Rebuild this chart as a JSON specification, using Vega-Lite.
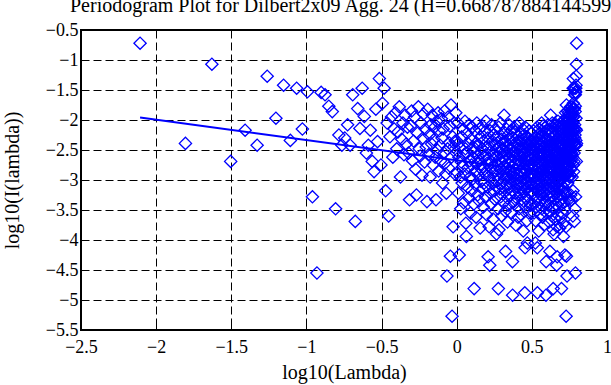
{
"$schema": "https://vega.github.io/schema/vega-lite/v6.json",
"width": 526, "height": 300,
"autosize": {"type": "none"},
"padding": {"left": 81, "top": 30, "right": 4, "bottom": 55},
"background": "white",
"title": {"text": "Periodogram Plot for Dilbert2x09 Agg. 24 (H=0.668787884144599)", "anchor": "start", "frame": "group", "dx": -11, "dy": 12, "offset": 1, "baseline": "alphabetic", "font": "Liberation Serif", "fontSize": 20, "fontWeight": "normal", "color": "black"},
"config": {
 "view": {"stroke": "black", "strokeWidth": 2},
 "axis": {"labelFont": "Liberation Serif", "labelFontSize": 18, "labelColor": "black", "titleFont": "Liberation Serif", "titleFontSize": 20, "titleFontWeight": "normal", "titleColor": "black", "domain": false, "gridColor": "black", "gridDash": [8, 4], "gridWidth": 1, "gridOpacity": 1, "tickColor": "black", "tickSize": -6, "tickWidth": 1, "labelFlush": false, "labelOverlap": false, "labelBound": false}
},
"datasets": {
"fit": [{"x": -2.107, "y": -1.96}, {"x": 0.798, "y": -2.94}],
"pts": [
{"x":-2.107,"y":-0.72},{"x":-1.805,"y":-2.39},{"x":-1.629,"y":-1.07},{"x":-1.504,"y":-2.69},{"x":-1.408,"y":-2.17},{"x":-1.328,"y":-2.42},{"x":-1.261,"y":-1.27},{"x":-1.203,"y":-1.97},{"x":-1.152,"y":-1.42},{"x":-1.107,"y":-2.34},
{"x":-1.065,"y":-1.47},{"x":-1.027,"y":-2.15},{"x":-0.993,"y":-1.53},{"x":-0.960,"y":-3.28},{"x":-0.930,"y":-4.55},{"x":-0.902,"y":-1.54},{"x":-0.876,"y":-1.58},{"x":-0.851,"y":-1.77},{"x":-0.828,"y":-1.86},{"x":-0.806,"y":-3.48},
{"x":-0.784,"y":-2.25},{"x":-0.764,"y":-2.42},{"x":-0.745,"y":-2.30},{"x":-0.726,"y":-2.08},{"x":-0.709,"y":-2.42},{"x":-0.692,"y":-1.58},{"x":-0.675,"y":-3.69},{"x":-0.659,"y":-1.81},{"x":-0.644,"y":-2.14},{"x":-0.629,"y":-1.47},
{"x":-0.615,"y":-1.94},{"x":-0.601,"y":-2.55},{"x":-0.588,"y":-2.42},{"x":-0.575,"y":-2.17},{"x":-0.562,"y":-2.69},{"x":-0.550,"y":-2.86},{"x":-0.538,"y":-1.82},{"x":-0.527,"y":-2.36},{"x":-0.515,"y":-1.31},{"x":-0.504,"y":-2.75},
{"x":-0.494,"y":-1.72},{"x":-0.483,"y":-1.47},{"x":-0.473,"y":-3.18},{"x":-0.463,"y":-2.05},{"x":-0.453,"y":-3.60},{"x":-0.444,"y":-2.28},{"x":-0.434,"y":-1.95},{"x":-0.425,"y":-2.62},{"x":-0.416,"y":-2.15},{"x":-0.408,"y":-1.88},
{"x":-0.399,"y":-2.48},{"x":-0.391,"y":-2.20},{"x":-0.382,"y":-1.78},{"x":-0.374,"y":-2.95},{"x":-0.366,"y":-2.32},{"x":-0.358,"y":-2.05},{"x":-0.351,"y":-2.58},{"x":-0.343,"y":-1.92},{"x":-0.336,"y":-2.40},{"x":-0.328,"y":-2.12},
{"x":-0.321,"y":-2.55},{"x":-0.314,"y":-3.33},{"x":-0.307,"y":-2.10},{"x":-0.300,"y":-1.85},{"x":-0.294,"y":-2.68},{"x":-0.287,"y":-2.35},{"x":-0.280,"y":-1.95},{"x":-0.274,"y":-2.82},{"x":-0.268,"y":-3.25},{"x":-0.261,"y":-2.22},
{"x":-0.255,"y":-1.78},{"x":-0.249,"y":-2.48},{"x":-0.243,"y":-2.60},{"x":-0.237,"y":-2.05},{"x":-0.231,"y":-2.92},{"x":-0.226,"y":-2.30},{"x":-0.220,"y":-1.90},{"x":-0.214,"y":-2.70},{"x":-0.209,"y":-2.15},{"x":-0.203,"y":-2.45},
{"x":-0.198,"y":-3.36},{"x":-0.193,"y":-1.82},{"x":-0.187,"y":-2.58},{"x":-0.182,"y":-2.25},{"x":-0.177,"y":-2.95},{"x":-0.172,"y":-2.08},{"x":-0.167,"y":-2.40},{"x":-0.162,"y":-1.92},{"x":-0.157,"y":-2.75},{"x":-0.152,"y":-2.33},
{"x":-0.147,"y":-2.12},{"x":-0.143,"y":-2.62},{"x":-0.138,"y":-3.33},{"x":-0.133,"y":-2.02},{"x":-0.129,"y":-2.50},{"x":-0.124,"y":-1.88},{"x":-0.120,"y":-2.85},{"x":-0.115,"y":-2.18},{"x":-0.111,"y":-2.42},{"x":-0.107,"y":-2.68},
{"x":-0.102,"y":-1.98},{"x":-0.098,"y":-2.30},{"x":-0.094,"y":-3.05},{"x":-0.090,"y":-2.15},{"x":-0.085,"y":-2.55},{"x":-0.081,"y":-1.85},{"x":-0.077,"y":-2.72},{"x":-0.073,"y":-2.90},{"x":-0.069,"y":-3.22},{"x":-0.065,"y":-4.60},
{"x":-0.061,"y":-2.48},{"x":-0.057,"y":-1.95},{"x":-0.053,"y":-2.80},{"x":-0.050,"y":-2.38},{"x":-0.046,"y":-2.10},{"x":-0.042,"y":-4.27},{"x":-0.038,"y":-1.75},{"x":-0.035,"y":-2.62},{"x":-0.031,"y":-5.27},{"x":-0.027,"y":-2.28},
{"x":-0.024,"y":-3.78},{"x":-0.020,"y":-2.45},{"x":-0.017,"y":-2.05},{"x":-0.013,"y":-2.90},{"x":-0.010,"y":-2.35},{"x":-0.006,"y":-1.88},{"x":-0.003,"y":-2.55},
{"x":0.001,"y":-2.35},{"x":0.004,"y":-2.88},{"x":0.007,"y":-2.05},{"x":0.011,"y":-3.22},{"x":0.014,"y":-2.62},{"x":0.017,"y":-4.25},{"x":0.020,"y":-2.45},{"x":0.024,"y":-2.95},{"x":0.027,"y":-3.48},{"x":0.030,"y":-2.70},
{"x":0.033,"y":-2.28},{"x":0.036,"y":-3.05},{"x":0.039,"y":-2.78},{"x":0.043,"y":-2.15},{"x":0.046,"y":-3.38},{"x":0.049,"y":-2.58},{"x":0.052,"y":-2.90},{"x":0.055,"y":-2.02},{"x":0.058,"y":-2.48},{"x":0.061,"y":-3.72},
{"x":0.064,"y":-3.94},{"x":0.067,"y":-2.55},{"x":0.069,"y":-2.22},{"x":0.072,"y":-3.12},{"x":0.075,"y":-2.80},{"x":0.078,"y":-2.40},{"x":0.081,"y":-3.30},{"x":0.084,"y":-2.08},{"x":0.087,"y":-2.68},{"x":0.089,"y":-2.95},
{"x":0.092,"y":-3.55},{"x":0.095,"y":-2.32},{"x":0.098,"y":-2.75},{"x":0.100,"y":-3.18},{"x":0.103,"y":-2.12},{"x":0.106,"y":-2.62},{"x":0.108,"y":-2.98},{"x":0.111,"y":-2.45},{"x":0.114,"y":-3.40},{"x":0.116,"y":-4.81},
{"x":0.119,"y":-2.52},{"x":0.121,"y":-2.18},{"x":0.124,"y":-3.08},{"x":0.126,"y":-2.85},{"x":0.129,"y":-3.62},{"x":0.131,"y":-2.38},{"x":0.134,"y":-2.05},{"x":0.136,"y":-2.72},{"x":0.139,"y":-3.25},{"x":0.141,"y":-2.60},
{"x":0.144,"y":-2.92},{"x":0.146,"y":-2.42},{"x":0.149,"y":-3.35},{"x":0.151,"y":-2.15},{"x":0.153,"y":-2.68},{"x":0.156,"y":-3.80},{"x":0.158,"y":-2.28},{"x":0.160,"y":-3.02},{"x":0.163,"y":-2.55},{"x":0.165,"y":-2.82},
{"x":0.168,"y":-2.48},{"x":0.170,"y":-3.15},{"x":0.172,"y":-2.10},{"x":0.174,"y":-2.78},{"x":0.177,"y":-3.45},{"x":0.179,"y":-2.35},{"x":0.181,"y":-2.62},{"x":0.183,"y":-3.05},{"x":0.186,"y":-2.20},{"x":0.188,"y":-2.90},
{"x":0.190,"y":-3.28},{"x":0.192,"y":-2.58},{"x":0.194,"y":-2.02},{"x":0.197,"y":-2.85},{"x":0.199,"y":-3.58},{"x":0.201,"y":-2.45},{"x":0.203,"y":-2.72},{"x":0.205,"y":-3.12},{"x":0.207,"y":-2.30},{"x":0.209,"y":-4.28},
{"x":0.212,"y":-2.65},{"x":0.214,"y":-2.95},{"x":0.216,"y":-3.78},{"x":0.218,"y":-2.40},{"x":0.220,"y":-4.42},{"x":0.222,"y":-2.18},{"x":0.224,"y":-3.22},{"x":0.226,"y":-2.80},{"x":0.228,"y":-2.52},{"x":0.230,"y":-3.40},
{"x":0.232,"y":-2.08},{"x":0.234,"y":-2.70},{"x":0.236,"y":-3.05},{"x":0.238,"y":-2.35},{"x":0.240,"y":-2.88},{"x":0.242,"y":-3.65},{"x":0.244,"y":-2.25},{"x":0.246,"y":-2.58},{"x":0.248,"y":-3.18},{"x":0.250,"y":-2.98},
{"x":0.251,"y":-2.42},{"x":0.253,"y":-3.32},{"x":0.255,"y":-2.62},{"x":0.257,"y":-2.15},{"x":0.259,"y":-2.85},{"x":0.261,"y":-3.10},{"x":0.263,"y":-2.50},{"x":0.265,"y":-3.90},{"x":0.266,"y":-2.28},{"x":0.268,"y":-2.75},
{"x":0.270,"y":-3.02},{"x":0.272,"y":-2.38},{"x":0.274,"y":-2.92},{"x":0.275,"y":-3.48},{"x":0.277,"y":-4.81},{"x":0.279,"y":-2.12},{"x":0.281,"y":-3.83},{"x":0.283,"y":-2.65},{"x":0.284,"y":-2.45},{"x":0.286,"y":-3.15},
{"x":0.288,"y":-2.55},{"x":0.290,"y":-2.82},{"x":0.291,"y":-2.05},{"x":0.293,"y":-3.28},{"x":0.295,"y":-2.70},{"x":0.297,"y":-2.32},{"x":0.298,"y":-3.05},{"x":0.300,"y":-3.60},{"x":0.302,"y":-2.48},{"x":0.303,"y":-2.90},
{"x":0.305,"y":-2.22},{"x":0.307,"y":-3.12},{"x":0.308,"y":-2.62},{"x":0.310,"y":-2.40},{"x":0.312,"y":-3.38},{"x":0.313,"y":-2.78},{"x":0.315,"y":-1.92},{"x":0.317,"y":-2.98},{"x":0.318,"y":-3.20},{"x":0.320,"y":-2.52},
{"x":0.322,"y":-2.35},{"x":0.323,"y":-3.52},{"x":0.325,"y":-4.19},{"x":0.326,"y":-2.68},{"x":0.328,"y":-2.88},{"x":0.330,"y":-2.15},{"x":0.331,"y":-3.08},{"x":0.333,"y":-2.58},{"x":0.334,"y":-2.80},{"x":0.336,"y":-3.30},
{"x":0.338,"y":-3.70},{"x":0.339,"y":-2.45},{"x":0.341,"y":-2.25},{"x":0.342,"y":-2.95},{"x":0.344,"y":-3.15},{"x":0.345,"y":-2.62},{"x":0.347,"y":-3.42},{"x":0.348,"y":-2.08},{"x":0.350,"y":-2.75},{"x":0.351,"y":-2.98},
{"x":0.353,"y":-2.50},{"x":0.354,"y":-2.32},{"x":0.356,"y":-3.25},{"x":0.357,"y":-2.85},{"x":0.359,"y":-3.05},{"x":0.360,"y":-2.40},{"x":0.362,"y":-2.68},{"x":0.363,"y":-2.18},{"x":0.365,"y":-3.55},{"x":0.366,"y":-2.90},
{"x":0.368,"y":-2.60},{"x":0.369,"y":-3.18},{"x":0.371,"y":-4.36},{"x":0.372,"y":-4.92},{"x":0.373,"y":-2.78},{"x":0.375,"y":-2.30},{"x":0.376,"y":-2.95},{"x":0.378,"y":-3.35},{"x":0.379,"y":-2.52},{"x":0.381,"y":-2.12},
{"x":0.382,"y":-2.88},{"x":0.383,"y":-3.40},{"x":0.385,"y":-2.45},{"x":0.386,"y":-3.02},{"x":0.388,"y":-2.20},{"x":0.389,"y":-2.72},{"x":0.390,"y":-3.22},{"x":0.392,"y":-2.58},{"x":0.393,"y":-3.75},{"x":0.394,"y":-2.65},
{"x":0.396,"y":-2.38},{"x":0.397,"y":-2.98},{"x":0.399,"y":-2.82},{"x":0.400,"y":-3.30},{"x":0.401,"y":-2.10},{"x":0.403,"y":-2.55},{"x":0.404,"y":-3.12},{"x":0.405,"y":-2.48},{"x":0.407,"y":-2.92},{"x":0.408,"y":-3.62},
{"x":0.409,"y":-2.28},{"x":0.411,"y":-2.75},{"x":0.412,"y":-3.05},{"x":0.413,"y":-2.42},{"x":0.415,"y":-3.48},{"x":0.416,"y":-2.68},{"x":0.417,"y":-2.05},{"x":0.418,"y":-3.20},{"x":0.420,"y":-2.58},{"x":0.421,"y":-2.85},
{"x":0.422,"y":-3.25},{"x":0.424,"y":-2.35},{"x":0.425,"y":-2.72},{"x":0.426,"y":-3.02},{"x":0.427,"y":-2.50},{"x":0.429,"y":-3.58},{"x":0.430,"y":-2.22},{"x":0.431,"y":-2.95},{"x":0.432,"y":-2.62},{"x":0.434,"y":-3.15},
{"x":0.435,"y":-2.45},{"x":0.436,"y":-3.38},{"x":0.438,"y":-2.80},{"x":0.439,"y":-2.15},{"x":0.440,"y":-3.08},{"x":0.441,"y":-2.58},{"x":0.443,"y":-3.85},{"x":0.444,"y":-2.32},{"x":0.445,"y":-2.88},{"x":0.446,"y":-3.18},
{"x":0.447,"y":-2.55},{"x":0.449,"y":-2.25},{"x":0.450,"y":-3.28},{"x":0.451,"y":-2.70},{"x":0.452,"y":-2.98},{"x":0.453,"y":-4.88},{"x":0.455,"y":-4.13},{"x":0.456,"y":-2.48},{"x":0.457,"y":-2.12},{"x":0.458,"y":-3.05},
{"x":0.459,"y":-2.65},{"x":0.461,"y":-3.45},{"x":0.462,"y":-2.38},{"x":0.463,"y":-2.85},{"x":0.464,"y":-3.15},{"x":0.465,"y":-2.52},{"x":0.466,"y":-2.28},{"x":0.467,"y":-3.68},{"x":0.469,"y":-2.78},{"x":0.470,"y":-4.05},
{"x":0.471,"y":-2.42},{"x":0.472,"y":-3.02},{"x":0.473,"y":-2.68},{"x":0.474,"y":-3.35},{"x":0.476,"y":-2.32},{"x":0.477,"y":-2.92},{"x":0.478,"y":-2.60},{"x":0.479,"y":-3.12},{"x":0.480,"y":-3.55},{"x":0.481,"y":-2.40},
{"x":0.482,"y":-2.75},{"x":0.483,"y":-2.18},{"x":0.485,"y":-2.95},{"x":0.486,"y":-3.22},{"x":0.487,"y":-2.50},{"x":0.488,"y":-2.82},{"x":0.489,"y":-3.08},{"x":0.490,"y":-2.35},{"x":0.491,"y":-3.42},{"x":0.492,"y":-2.65},
{"x":0.493,"y":-2.90},{"x":0.494,"y":-2.48},{"x":0.495,"y":-3.18},{"x":0.497,"y":-2.72},
{"x":0.798,"y":-0.72},{"x":0.797,"y":-2.39},{"x":0.797,"y":-1.07},{"x":0.796,"y":-2.69},{"x":0.796,"y":-2.17},{"x":0.795,"y":-2.42},{"x":0.795,"y":-1.27},{"x":0.794,"y":-1.97},{"x":0.794,"y":-1.42},{"x":0.793,"y":-2.34},
{"x":0.792,"y":-1.47},{"x":0.792,"y":-2.15},{"x":0.791,"y":-1.53},{"x":0.791,"y":-3.28},{"x":0.790,"y":-4.55},{"x":0.790,"y":-1.54},{"x":0.789,"y":-1.58},{"x":0.789,"y":-1.77},{"x":0.788,"y":-1.86},{"x":0.787,"y":-3.48},
{"x":0.787,"y":-2.25},{"x":0.786,"y":-2.42},{"x":0.786,"y":-2.30},{"x":0.785,"y":-2.08},{"x":0.785,"y":-2.42},{"x":0.784,"y":-1.58},{"x":0.783,"y":-3.69},{"x":0.783,"y":-1.81},{"x":0.782,"y":-2.14},{"x":0.782,"y":-1.47},
{"x":0.781,"y":-1.94},{"x":0.781,"y":-2.55},{"x":0.780,"y":-2.42},{"x":0.779,"y":-2.17},{"x":0.779,"y":-2.69},{"x":0.778,"y":-2.86},{"x":0.778,"y":-1.82},{"x":0.777,"y":-2.36},{"x":0.776,"y":-1.31},{"x":0.776,"y":-2.75},
{"x":0.776,"y":-1.72},{"x":0.775,"y":-1.47},{"x":0.774,"y":-3.18},{"x":0.774,"y":-2.05},{"x":0.773,"y":-3.60},{"x":0.773,"y":-2.28},{"x":0.772,"y":-1.95},{"x":0.771,"y":-2.62},{"x":0.771,"y":-2.15},{"x":0.770,"y":-1.88},
{"x":0.770,"y":-2.48},{"x":0.769,"y":-2.20},{"x":0.768,"y":-1.78},{"x":0.768,"y":-2.95},{"x":0.767,"y":-2.32},{"x":0.767,"y":-2.05},{"x":0.766,"y":-2.58},{"x":0.765,"y":-1.92},{"x":0.765,"y":-2.40},{"x":0.764,"y":-2.12},
{"x":0.764,"y":-2.55},{"x":0.763,"y":-3.33},{"x":0.763,"y":-2.10},{"x":0.762,"y":-1.85},{"x":0.762,"y":-2.68},{"x":0.761,"y":-2.35},{"x":0.760,"y":-1.95},{"x":0.760,"y":-2.82},{"x":0.759,"y":-3.25},{"x":0.759,"y":-2.22},
{"x":0.758,"y":-1.78},{"x":0.757,"y":-2.48},{"x":0.757,"y":-2.60},{"x":0.756,"y":-2.05},{"x":0.756,"y":-2.92},{"x":0.755,"y":-2.30},{"x":0.754,"y":-1.90},{"x":0.754,"y":-2.70},{"x":0.753,"y":-2.15},{"x":0.753,"y":-2.45},
{"x":0.752,"y":-3.36},{"x":0.751,"y":-1.82},{"x":0.751,"y":-2.58},{"x":0.750,"y":-2.25},{"x":0.750,"y":-2.95},{"x":0.749,"y":-2.08},{"x":0.748,"y":-2.40},{"x":0.748,"y":-1.92},{"x":0.747,"y":-2.75},{"x":0.747,"y":-2.33},
{"x":0.746,"y":-2.12},{"x":0.745,"y":-2.62},{"x":0.745,"y":-3.33},{"x":0.744,"y":-2.02},{"x":0.744,"y":-2.50},{"x":0.743,"y":-1.88},{"x":0.742,"y":-2.85},{"x":0.742,"y":-2.18},{"x":0.741,"y":-2.42},{"x":0.740,"y":-2.68},
{"x":0.740,"y":-1.98},{"x":0.739,"y":-2.30},{"x":0.739,"y":-3.05},{"x":0.738,"y":-2.15},{"x":0.737,"y":-2.55},{"x":0.737,"y":-1.85},{"x":0.736,"y":-2.72},{"x":0.735,"y":-2.90},{"x":0.735,"y":-3.22},{"x":0.734,"y":-4.60},
{"x":0.734,"y":-2.48},{"x":0.733,"y":-1.95},{"x":0.732,"y":-2.80},{"x":0.732,"y":-2.38},{"x":0.731,"y":-2.10},{"x":0.730,"y":-4.27},{"x":0.730,"y":-1.75},{"x":0.729,"y":-2.62},{"x":0.728,"y":-5.27},{"x":0.728,"y":-2.28},
{"x":0.727,"y":-3.78},{"x":0.727,"y":-2.45},{"x":0.726,"y":-2.05},{"x":0.725,"y":-2.90},{"x":0.725,"y":-2.35},{"x":0.724,"y":-1.88},{"x":0.723,"y":-2.55},
{"x":0.723,"y":-2.35},{"x":0.722,"y":-2.88},{"x":0.721,"y":-2.05},{"x":0.721,"y":-3.22},{"x":0.720,"y":-2.62},{"x":0.720,"y":-4.25},{"x":0.719,"y":-2.45},{"x":0.718,"y":-2.95},{"x":0.718,"y":-3.48},{"x":0.717,"y":-2.70},
{"x":0.716,"y":-2.28},{"x":0.716,"y":-3.05},{"x":0.715,"y":-2.78},{"x":0.714,"y":-2.15},{"x":0.714,"y":-3.38},{"x":0.713,"y":-2.58},{"x":0.712,"y":-2.90},{"x":0.712,"y":-2.02},{"x":0.711,"y":-2.48},{"x":0.710,"y":-3.72},
{"x":0.710,"y":-3.94},{"x":0.709,"y":-2.55},{"x":0.708,"y":-2.22},{"x":0.708,"y":-3.12},{"x":0.707,"y":-2.80},{"x":0.706,"y":-2.40},{"x":0.706,"y":-3.30},{"x":0.705,"y":-2.08},{"x":0.704,"y":-2.68},{"x":0.704,"y":-2.95},
{"x":0.703,"y":-3.55},{"x":0.702,"y":-2.32},{"x":0.702,"y":-2.75},{"x":0.701,"y":-3.18},{"x":0.700,"y":-2.12},{"x":0.700,"y":-2.62},{"x":0.699,"y":-2.98},{"x":0.698,"y":-2.45},{"x":0.698,"y":-3.40},{"x":0.697,"y":-4.81},
{"x":0.696,"y":-2.52},{"x":0.696,"y":-2.18},{"x":0.695,"y":-3.08},{"x":0.694,"y":-2.85},{"x":0.693,"y":-3.62},{"x":0.693,"y":-2.38},{"x":0.692,"y":-2.05},{"x":0.691,"y":-2.72},{"x":0.691,"y":-3.25},{"x":0.690,"y":-2.60},
{"x":0.689,"y":-2.92},{"x":0.689,"y":-2.42},{"x":0.688,"y":-3.35},{"x":0.687,"y":-2.15},{"x":0.686,"y":-2.68},{"x":0.686,"y":-3.80},{"x":0.685,"y":-2.28},{"x":0.684,"y":-3.02},{"x":0.684,"y":-2.55},{"x":0.683,"y":-2.82},
{"x":0.682,"y":-2.48},{"x":0.682,"y":-3.15},{"x":0.681,"y":-2.10},{"x":0.680,"y":-2.78},{"x":0.679,"y":-3.45},{"x":0.679,"y":-2.35},{"x":0.678,"y":-2.62},{"x":0.677,"y":-3.05},{"x":0.677,"y":-2.20},{"x":0.676,"y":-2.90},
{"x":0.675,"y":-3.28},{"x":0.675,"y":-2.58},{"x":0.674,"y":-2.02},{"x":0.673,"y":-2.85},{"x":0.672,"y":-3.58},{"x":0.672,"y":-2.45},{"x":0.671,"y":-2.72},{"x":0.670,"y":-3.12},{"x":0.669,"y":-2.30},{"x":0.669,"y":-4.28},
{"x":0.668,"y":-2.65},{"x":0.667,"y":-2.95},{"x":0.667,"y":-3.78},{"x":0.666,"y":-2.40},{"x":0.665,"y":-4.42},{"x":0.664,"y":-2.18},{"x":0.664,"y":-3.22},{"x":0.663,"y":-2.80},{"x":0.662,"y":-2.52},{"x":0.661,"y":-3.40},
{"x":0.661,"y":-2.08},{"x":0.660,"y":-2.70},{"x":0.659,"y":-3.05},{"x":0.658,"y":-2.35},{"x":0.658,"y":-2.88},{"x":0.657,"y":-3.65},{"x":0.656,"y":-2.25},{"x":0.655,"y":-2.58},{"x":0.655,"y":-3.18},{"x":0.654,"y":-2.98},
{"x":0.653,"y":-2.42},{"x":0.652,"y":-3.32},{"x":0.652,"y":-2.62},{"x":0.651,"y":-2.15},{"x":0.650,"y":-2.85},{"x":0.649,"y":-3.10},{"x":0.648,"y":-2.50},{"x":0.648,"y":-3.90},{"x":0.647,"y":-2.28},{"x":0.646,"y":-2.75},
{"x":0.646,"y":-3.02},{"x":0.645,"y":-2.38},{"x":0.644,"y":-2.92},{"x":0.643,"y":-3.48},{"x":0.642,"y":-4.81},{"x":0.642,"y":-2.12},{"x":0.641,"y":-3.83},{"x":0.640,"y":-2.65},{"x":0.639,"y":-2.45},{"x":0.638,"y":-3.15},
{"x":0.638,"y":-2.55},{"x":0.637,"y":-2.82},{"x":0.636,"y":-2.05},{"x":0.635,"y":-3.28},{"x":0.634,"y":-2.70},{"x":0.634,"y":-2.32},{"x":0.633,"y":-3.05},{"x":0.632,"y":-3.60},{"x":0.631,"y":-2.48},{"x":0.630,"y":-2.90},
{"x":0.630,"y":-2.22},{"x":0.629,"y":-3.12},{"x":0.628,"y":-2.62},{"x":0.627,"y":-2.40},{"x":0.626,"y":-3.38},{"x":0.626,"y":-2.78},{"x":0.625,"y":-1.92},{"x":0.624,"y":-2.98},{"x":0.623,"y":-3.20},{"x":0.622,"y":-2.52},
{"x":0.622,"y":-2.35},{"x":0.621,"y":-3.52},{"x":0.620,"y":-4.19},{"x":0.619,"y":-2.68},{"x":0.618,"y":-2.88},{"x":0.618,"y":-2.15},{"x":0.617,"y":-3.08},{"x":0.616,"y":-2.58},{"x":0.615,"y":-2.80},{"x":0.614,"y":-3.30},
{"x":0.614,"y":-3.70},{"x":0.613,"y":-2.45},{"x":0.612,"y":-2.25},{"x":0.611,"y":-2.95},{"x":0.610,"y":-3.15},{"x":0.609,"y":-2.62},{"x":0.609,"y":-3.42},{"x":0.608,"y":-2.08},{"x":0.607,"y":-2.75},{"x":0.606,"y":-2.98},
{"x":0.605,"y":-2.50},{"x":0.604,"y":-2.32},{"x":0.604,"y":-3.25},{"x":0.603,"y":-2.85},{"x":0.602,"y":-3.05},{"x":0.601,"y":-2.40},{"x":0.600,"y":-2.68},{"x":0.599,"y":-2.18},{"x":0.598,"y":-3.55},{"x":0.598,"y":-2.90},
{"x":0.597,"y":-2.60},{"x":0.596,"y":-3.18},{"x":0.595,"y":-4.36},{"x":0.594,"y":-4.92},{"x":0.593,"y":-2.78},{"x":0.592,"y":-2.30},{"x":0.591,"y":-2.95},{"x":0.591,"y":-3.35},{"x":0.590,"y":-2.52},{"x":0.589,"y":-2.12},
{"x":0.588,"y":-2.88},{"x":0.587,"y":-3.40},{"x":0.586,"y":-2.45},{"x":0.585,"y":-3.02},{"x":0.584,"y":-2.20},{"x":0.584,"y":-2.72},{"x":0.583,"y":-3.22},{"x":0.582,"y":-2.58},{"x":0.581,"y":-3.75},{"x":0.580,"y":-2.65},
{"x":0.579,"y":-2.38},{"x":0.578,"y":-2.98},{"x":0.577,"y":-2.82},{"x":0.576,"y":-3.30},{"x":0.575,"y":-2.10},{"x":0.575,"y":-2.55},{"x":0.574,"y":-3.12},{"x":0.573,"y":-2.48},{"x":0.572,"y":-2.92},{"x":0.571,"y":-3.62},
{"x":0.570,"y":-2.28},{"x":0.569,"y":-2.75},{"x":0.568,"y":-3.05},{"x":0.567,"y":-2.42},{"x":0.566,"y":-3.48},{"x":0.566,"y":-2.68},{"x":0.565,"y":-2.05},{"x":0.564,"y":-3.20},{"x":0.563,"y":-2.58},{"x":0.562,"y":-2.85},
{"x":0.561,"y":-3.25},{"x":0.560,"y":-2.35},{"x":0.559,"y":-2.72},{"x":0.558,"y":-3.02},{"x":0.557,"y":-2.50},{"x":0.556,"y":-3.58},{"x":0.555,"y":-2.22},{"x":0.554,"y":-2.95},{"x":0.553,"y":-2.62},{"x":0.552,"y":-3.15},
{"x":0.552,"y":-2.45},{"x":0.551,"y":-3.38},{"x":0.550,"y":-2.80},{"x":0.549,"y":-2.15},{"x":0.548,"y":-3.08},{"x":0.547,"y":-2.58},{"x":0.546,"y":-3.85},{"x":0.545,"y":-2.32},{"x":0.544,"y":-2.88},{"x":0.543,"y":-3.18},
{"x":0.542,"y":-2.55},{"x":0.541,"y":-2.25},{"x":0.540,"y":-3.28},{"x":0.539,"y":-2.70},{"x":0.538,"y":-2.98},{"x":0.537,"y":-4.88},{"x":0.536,"y":-4.13},{"x":0.535,"y":-2.48},{"x":0.534,"y":-2.12},{"x":0.533,"y":-3.05},
{"x":0.532,"y":-2.65},{"x":0.531,"y":-3.45},{"x":0.530,"y":-2.38},{"x":0.529,"y":-2.85},{"x":0.528,"y":-3.15},{"x":0.527,"y":-2.52},{"x":0.526,"y":-2.28},{"x":0.525,"y":-3.68},{"x":0.524,"y":-2.78},{"x":0.523,"y":-4.05},
{"x":0.522,"y":-2.42},{"x":0.521,"y":-3.02},{"x":0.520,"y":-2.68},{"x":0.519,"y":-3.35},{"x":0.518,"y":-2.32},{"x":0.517,"y":-2.92},{"x":0.516,"y":-2.60},{"x":0.515,"y":-3.12},{"x":0.514,"y":-3.55},{"x":0.513,"y":-2.40},
{"x":0.512,"y":-2.75},{"x":0.511,"y":-2.18},{"x":0.510,"y":-2.95},{"x":0.509,"y":-3.22},{"x":0.508,"y":-2.50},{"x":0.506,"y":-2.82},{"x":0.505,"y":-3.08},{"x":0.504,"y":-2.35},{"x":0.503,"y":-3.42},{"x":0.502,"y":-2.65},
{"x":0.501,"y":-2.90},{"x":0.500,"y":-2.48},{"x":0.499,"y":-3.18},{"x":0.498,"y":-2.72}
]
},
"layer": [
 {
  "data": {"name": "pts"},
  "mark": {"type": "point", "shape": "diamond", "filled": false, "color": "#0000ff", "size": 150, "strokeWidth": 1.3, "opacity": 1},
  "encoding": {
   "x": {"field": "x", "type": "quantitative", "scale": {"domain": [-2.5, 1], "nice": false, "zero": false},
         "axis": {"orient": "bottom", "values": [-2.5, -2, -1.5, -1, -0.5, 0, 0.5, 1], "format": "~g", "title": "log10(Lambda)", "grid": true, "labelPadding": 14, "titlePadding": 6}},
   "y": {"field": "y", "type": "quantitative", "scale": {"domain": [-5.5, -0.5], "nice": false, "zero": false},
         "axis": {"orient": "left", "values": [-5.5, -5, -4.5, -4, -3.5, -3, -2.5, -2, -1.5, -1, -0.5], "format": "~g", "title": "log10(I(lambda))", "grid": true, "labelPadding": 9, "titlePadding": 23}}
  }
 },
 {
  "data": {"name": "fit"},
  "mark": {"type": "line", "color": "#0000ff", "strokeWidth": 2},
  "encoding": {
   "x": {"field": "x", "type": "quantitative", "scale": {"domain": [-2.5, 1], "nice": false, "zero": false},
         "axis": {"orient": "top", "values": [-2.5, -2, -1.5, -1, -0.5, 0, 0.5, 1], "labels": false, "grid": false, "title": null}},
   "y": {"field": "y", "type": "quantitative", "scale": {"domain": [-5.5, -0.5], "nice": false, "zero": false},
         "axis": {"orient": "right", "values": [-5.5, -5, -4.5, -4, -3.5, -3, -2.5, -2, -1.5, -1, -0.5], "labels": false, "grid": false, "title": null}}
  }
 }
],
"resolve": {"axis": {"x": "independent", "y": "independent"}}
}
